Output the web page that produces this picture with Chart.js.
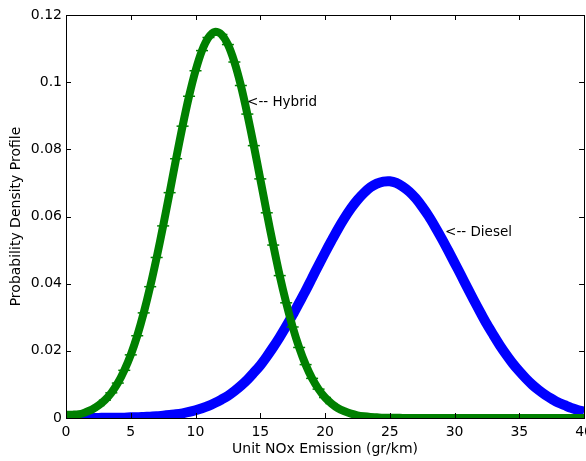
<!DOCTYPE html>
<html>
<head>
<meta charset="utf-8">
<script src="https://cdn.jsdelivr.net/npm/chart.js@4"></script>
<style>
  html, body { margin: 0; padding: 0; background: #fff; overflow: hidden; }
  #wrap { width: 586px; height: 461px; overflow: hidden; }
  /* a bit wider than the page so the last x label runs off the edge */
  #pdfChart { width: 599px; height: 461px; }
</style>
</head>
<body>
<div id="wrap"><canvas id="pdfChart" width="599" height="461"></canvas></div>
<script>
// x grid (gr/km), one value every 0.5
var emission = [];
for (var i = 0; i <= 80; i++) emission.push(i / 2);

// density, same x grid as above
var hybrid = [
  0.0010, 0.0010, 0.0011, 0.0017, 0.0025, 0.0037, 0.0053, 0.0075, 0.0104, 0.0142,
  0.0188, 0.0245, 0.0313, 0.0391, 0.0478, 0.0572, 0.0671, 0.0772, 0.0869, 0.0958,
  0.1034, 0.1094, 0.1133, 0.1150, 0.1142, 0.1112, 0.1060, 0.0990, 0.0905, 0.0811,
  0.0712, 0.0611, 0.0515, 0.0424, 0.0343, 0.0271, 0.0210, 0.0159, 0.0118, 0.0086,
  0.0061, 0.0043, 0.0029, 0.0020, 0.0013, 0.0008, 0.0005, 0.0003, 0.0002, 0.0001,
  0.0001, 0.0001, 0.0000, 0.0000, 0.0000, 0.0000, 0.0000, 0.0000, 0.0000, 0.0000,
  0.0000, 0.0000, 0.0000, 0.0000, 0.0000, 0.0000, 0.0000, 0.0000, 0.0000, 0.0000,
  0.0000, 0.0000, 0.0000, 0.0000, 0.0000, 0.0000, 0.0000, 0.0000, 0.0000, 0.0000,
  0.0000
];
var diesel = [
  0.0000, 0.0000, 0.0000, 0.0000, 0.0000, 0.0000, 0.0001, 0.0001, 0.0001, 0.0001,
  0.0002, 0.0002, 0.0003, 0.0004, 0.0005, 0.0007, 0.0009, 0.0011, 0.0014, 0.0018,
  0.0023, 0.0029, 0.0036, 0.0045, 0.0055, 0.0066, 0.0080, 0.0096, 0.0114, 0.0135,
  0.0157, 0.0183, 0.0211, 0.0241, 0.0273, 0.0307, 0.0343, 0.0379, 0.0417, 0.0455,
  0.0492, 0.0528, 0.0563, 0.0595, 0.0624, 0.0649, 0.0670, 0.0687, 0.0698, 0.0704,
  0.0705, 0.0700, 0.0689, 0.0674, 0.0654, 0.0629, 0.0601, 0.0569, 0.0535, 0.0499,
  0.0462, 0.0425, 0.0387, 0.0350, 0.0314, 0.0279, 0.0247, 0.0216, 0.0188, 0.0162,
  0.0139, 0.0118, 0.0099, 0.0083, 0.0069, 0.0057, 0.0046, 0.0038, 0.0030, 0.0024,
  0.0019
];

var xTicks = [0, 5, 10, 15, 20, 25, 30, 35, 40];
var yTicks = [0, 0.02, 0.04, 0.06, 0.08, 0.1, 0.12];

// text labels next to the curves: [x, y, text]
var notes = [
  [13.98, 0.0938, '<-- Hybrid'],
  [29.27, 0.0551, '<-- Diesel']
];

var FONT = '"DejaVu Sans", Verdana, sans-serif';

function pts(ys) {
  return emission.map(function (x, k) { return { x: x, y: ys[k] }; });
}

// box around the axes, inward tick marks, and the curve labels
var matlabAxes = {
  id: 'matlabAxes',
  afterDatasetsDraw: function (chart) {
    var c = chart.ctx, a = chart.chartArea;
    var sx = chart.scales.x, sy = chart.scales.y;
    c.save();
    c.strokeStyle = '#000';
    c.lineWidth = 1;
    c.beginPath();
    xTicks.forEach(function (v) {
      var px = Math.round(sx.getPixelForValue(v)) + 0.5;
      c.moveTo(px, a.bottom); c.lineTo(px, a.bottom - 5);
      c.moveTo(px, a.top); c.lineTo(px, a.top + 5);
    });
    yTicks.forEach(function (v) {
      var py = Math.round(sy.getPixelForValue(v)) + 0.5;
      c.moveTo(a.left, py); c.lineTo(a.left + 5, py);
      c.moveTo(a.right, py); c.lineTo(a.right - 5, py);
    });
    c.stroke();
    c.strokeRect(Math.round(a.left) + 0.5, Math.round(a.top) + 0.5,
                 Math.round(a.right - a.left), Math.round(a.bottom - a.top));
    c.fillStyle = '#000';
    c.font = '13.5px ' + FONT;
    c.textAlign = 'left';
    c.textBaseline = 'middle';
    notes.forEach(function (n) {
      c.fillText(n[2], sx.getPixelForValue(n[0]), sy.getPixelForValue(n[1]));
    });
    c.restore();
  }
};

var ctx = document.getElementById('pdfChart').getContext('2d');
var chart = new Chart(ctx, {
  type: 'line',
  data: {
    datasets: [{
      label: 'Hybrid',
      data: pts(hybrid),
      borderColor: '#008000',
      backgroundColor: '#008000',
      borderWidth: 8,
      tension: 0.3,
      pointStyle: 'line',
      pointRadius: 6,
      pointBorderWidth: 1.5,
      pointBorderColor: '#008000'
    }, {
      label: 'Diesel',
      data: pts(diesel),
      borderColor: '#0000ff',
      backgroundColor: '#0000ff',
      borderWidth: 10,
      tension: 0.3,
      pointRadius: 0
    }]
  },
  options: {
    responsive: false,
    animation: false,
    devicePixelRatio: 1,
    layout: { padding: { top: 15, right: 0, left: 0, bottom: 0 } },
    plugins: { legend: { display: false }, tooltip: { enabled: false } },
    scales: {
      x: {
        type: 'linear',
        min: 0, max: 40,
        afterFit: function (s) { s.height = 43; },
        afterBuildTicks: function (s) { s.ticks = xTicks.map(function (v) { return { value: v }; }); },
        grid: { display: false, drawTicks: false },
        border: { display: false },
        ticks: { color: '#000', font: { family: FONT, size: 14 }, padding: 6, maxRotation: 0 },
        title: { display: true, text: 'Unit NOx Emission (gr/km)', color: '#000',
                 font: { family: FONT, size: 14 }, padding: { top: 0, bottom: 3 } }
      },
      y: {
        type: 'linear',
        min: 0, max: 0.12,
        afterFit: function (s) { s.width = 66; },
        afterBuildTicks: function (s) { s.ticks = yTicks.map(function (v) { return { value: v }; }); },
        grid: { display: false, drawTicks: false },
        border: { display: false },
        ticks: { color: '#000', font: { family: FONT, size: 14 }, padding: 4,
                 callback: function (v) { return String(v); } },
        title: { display: true, text: 'Probability Density Profile', color: '#000',
                 font: { family: FONT, size: 14 }, padding: { top: 8, bottom: 0 } }
      }
    }
  },
  plugins: [matlabAxes]
});
</script>
</body>
</html>
